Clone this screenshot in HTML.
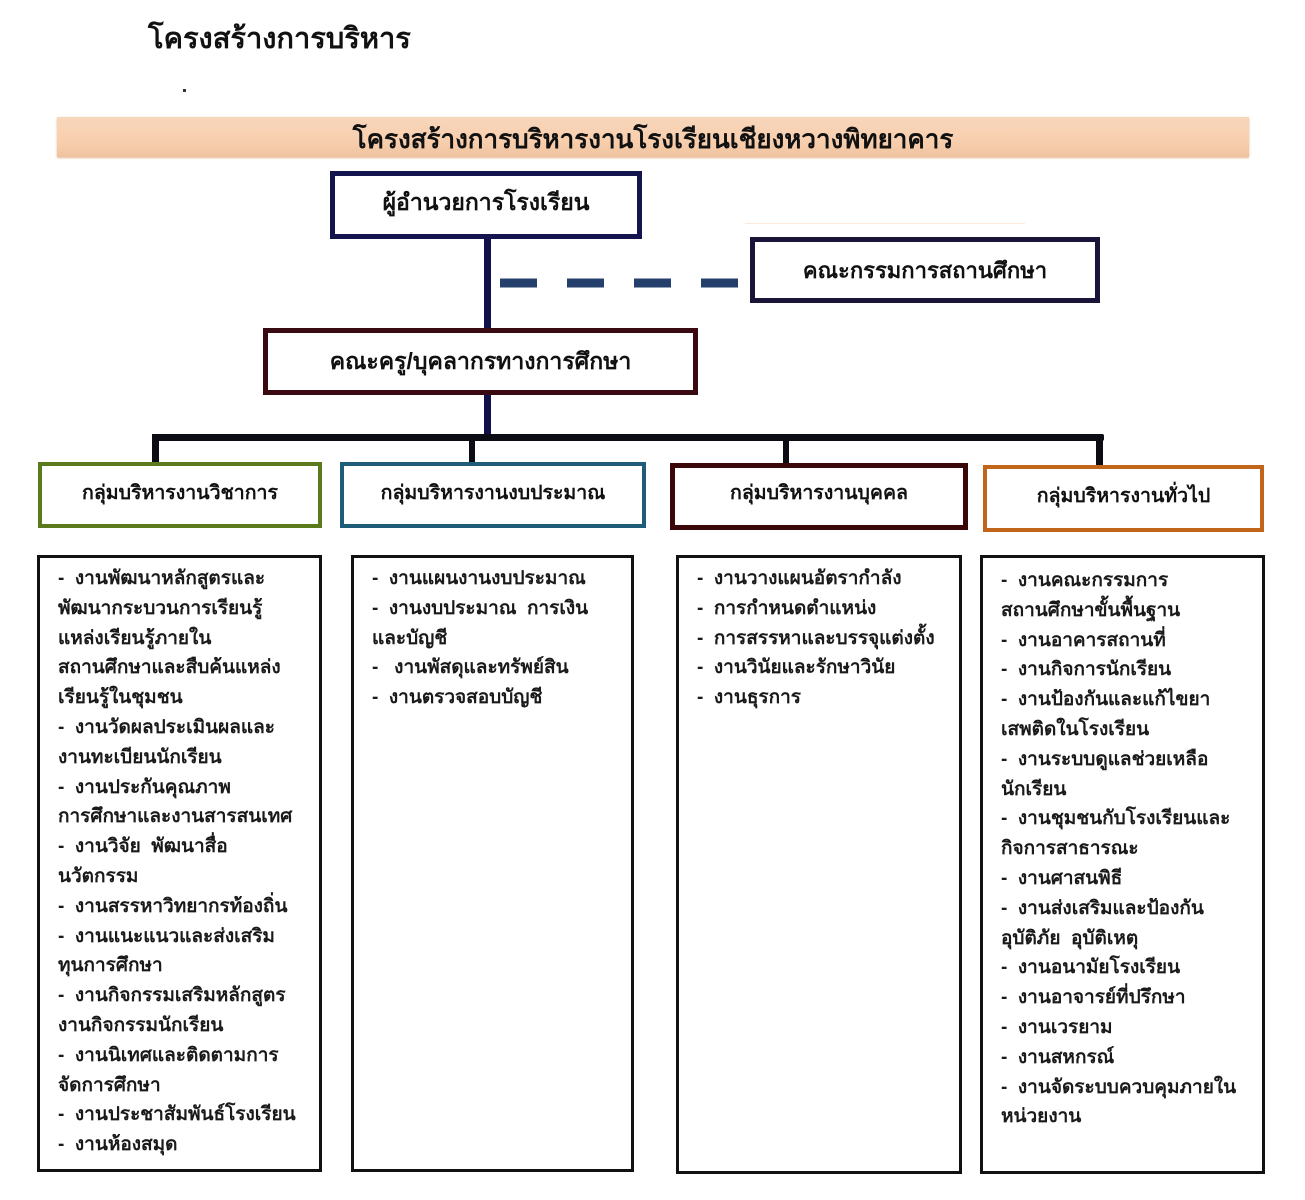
<!DOCTYPE html>
<html>
<head>
<meta charset="utf-8">
<style>
  html,body{margin:0;padding:0;background:#fff;}
  body{width:1305px;height:1200px;position:relative;overflow:hidden;
       font-family:"Liberation Sans","DejaVu Sans","Noto Sans CJK SC",sans-serif;color:#111;}
  .abs{position:absolute;box-sizing:border-box;}
  .t{position:absolute;white-space:nowrap;font-weight:bold;}
  .box{position:absolute;box-sizing:border-box;background:#fff;display:flex;align-items:center;justify-content:center;font-weight:bold;white-space:nowrap;}
  .list{position:absolute;box-sizing:border-box;border:3px solid #111;background:#fff;overflow:hidden;}
  .lines{position:absolute;left:18px;font-size:19px;font-weight:bold;line-height:29.8px;white-space:pre;color:#1a1a1a;}
</style>
</head>
<body>

<!-- page title -->
<div class="t" style="left:148px;top:15px;font-size:29px;color:#111;">โครงสร้างการบริหาร</div>
<div class="abs" style="left:183px;top:89px;width:3px;height:3px;background:#333;"></div>

<!-- banner -->
<div class="abs" style="left:57px;top:117px;width:1192px;height:40px;background:linear-gradient(#f7d6bb,#f8cfae 60%,#efc39f);box-shadow:0 1px 2px #e3b894;"></div>
<div class="t" style="left:57px;top:119px;width:1192px;text-align:center;font-size:26px;">โครงสร้างการบริหารงานโรงเรียนเชียงหวางพิทยาคาร</div>

<!-- director -->
<div class="box" style="left:330px;top:171px;width:312px;height:68px;border:5px solid #14144e;font-size:23px;padding-bottom:4px;">ผู้อำนวยการโรงเรียน</div>

<!-- vertical director -> teachers -->
<div class="abs" style="left:484px;top:239px;width:7px;height:90px;background:#10104a;"></div>

<!-- dashed line -->
<svg class="abs" style="left:495px;top:276px;" width="260" height="14">
  <line x1="5" y1="7" x2="250" y2="7" stroke="#243f6b" stroke-width="9" stroke-dasharray="37,30"/>
</svg>

<!-- faint line -->
<div class="abs" style="left:745px;top:223px;width:280px;height:1px;background:#fbeadc;"></div>

<!-- committee -->
<div class="box" style="left:750px;top:237px;width:350px;height:66px;border:5px solid #1a1438;font-size:22px;">คณะกรรมการสถานศึกษา</div>

<!-- teachers -->
<div class="box" style="left:263px;top:328px;width:435px;height:67px;border:5px solid #3a0a12;font-size:23px;">คณะครู/บุคลากรทางการศึกษา</div>

<!-- vertical teachers -> bar -->
<div class="abs" style="left:484px;top:395px;width:7px;height:44px;background:#10104a;"></div>

<!-- horizontal bar -->
<div class="abs" style="left:152px;top:434px;width:952px;height:7px;background:#0c0c14;border-radius:2px;"></div>

<!-- drops -->
<div class="abs" style="left:152px;top:434px;width:7px;height:31px;background:#0c0c14;"></div>
<div class="abs" style="left:469px;top:434px;width:6px;height:30px;background:#0c0c14;"></div>
<div class="abs" style="left:783px;top:434px;width:6px;height:30px;background:#0c0c14;"></div>
<div class="abs" style="left:1096px;top:434px;width:7px;height:32px;background:#0c0c14;"></div>

<!-- group boxes -->
<div class="box" style="left:38px;top:462px;width:284px;height:66px;border:4px solid #5a7a1c;font-size:19.5px;padding-bottom:6px;">กลุ่มบริหารงานวิชาการ</div>
<div class="box" style="left:340px;top:462px;width:306px;height:66px;border:4px solid #1f5c78;font-size:19.5px;padding-bottom:6px;">กลุ่มบริหารงานงบประมาณ</div>
<div class="box" style="left:670px;top:463px;width:298px;height:67px;border:5px solid #3a0808;font-size:19.5px;padding-bottom:8px;">กลุ่มบริหารงานบุคคล</div>
<div class="box" style="left:983px;top:465px;width:281px;height:67px;border:4px solid #c0651a;font-size:19.5px;padding-bottom:6px;">กลุ่มบริหารงานทั่วไป</div>

<!-- list boxes -->
<div class="list" style="left:37px;top:555px;width:285px;height:617px;">
<div class="lines" style="top:6px;">-  งานพัฒนาหลักสูตรและ
พัฒนากระบวนการเรียนรู้
แหล่งเรียนรู้ภายใน
สถานศึกษาและสืบค้นแหล่ง
เรียนรู้ในชุมชน
-  งานวัดผลประเมินผลและ
งานทะเบียนนักเรียน
-  งานประกันคุณภาพ
การศึกษาและงานสารสนเทศ
-  งานวิจัย  พัฒนาสื่อ
นวัตกรรม
-  งานสรรหาวิทยากรท้องถิ่น
-  งานแนะแนวและส่งเสริม
ทุนการศึกษา
-  งานกิจกรรมเสริมหลักสูตร
งานกิจกรรมนักเรียน
-  งานนิเทศและติดตามการ
จัดการศึกษา
-  งานประชาสัมพันธ์โรงเรียน
-  งานห้องสมุด</div>
</div>

<div class="list" style="left:351px;top:555px;width:283px;height:617px;">
<div class="lines" style="top:6px;">-  งานแผนงานงบประมาณ
-  งานงบประมาณ  การเงิน
และบัญชี
-   งานพัสดุและทรัพย์สิน
-  งานตรวจสอบบัญชี</div>
</div>

<div class="list" style="left:676px;top:555px;width:286px;height:619px;">
<div class="lines" style="top:6px;">-  งานวางแผนอัตรากำลัง
-  การกำหนดตำแหน่ง
-  การสรรหาและบรรจุแต่งตั้ง
-  งานวินัยและรักษาวินัย
-  งานธุรการ</div>
</div>

<div class="list" style="left:980px;top:555px;width:285px;height:619px;">
<div class="lines" style="top:8px;">-  งานคณะกรรมการ
สถานศึกษาขั้นพื้นฐาน
-  งานอาคารสถานที่
-  งานกิจการนักเรียน
-  งานป้องกันและแก้ไขยา
เสพติดในโรงเรียน
-  งานระบบดูแลช่วยเหลือ
นักเรียน
-  งานชุมชนกับโรงเรียนและ
กิจการสาธารณะ
-  งานศาสนพิธี
-  งานส่งเสริมและป้องกัน
อุบัติภัย  อุบัติเหตุ
-  งานอนามัยโรงเรียน
-  งานอาจารย์ที่ปรึกษา
-  งานเวรยาม
-  งานสหกรณ์
-  งานจัดระบบควบคุมภายใน
หน่วยงาน</div>
</div>

</body>
</html>
